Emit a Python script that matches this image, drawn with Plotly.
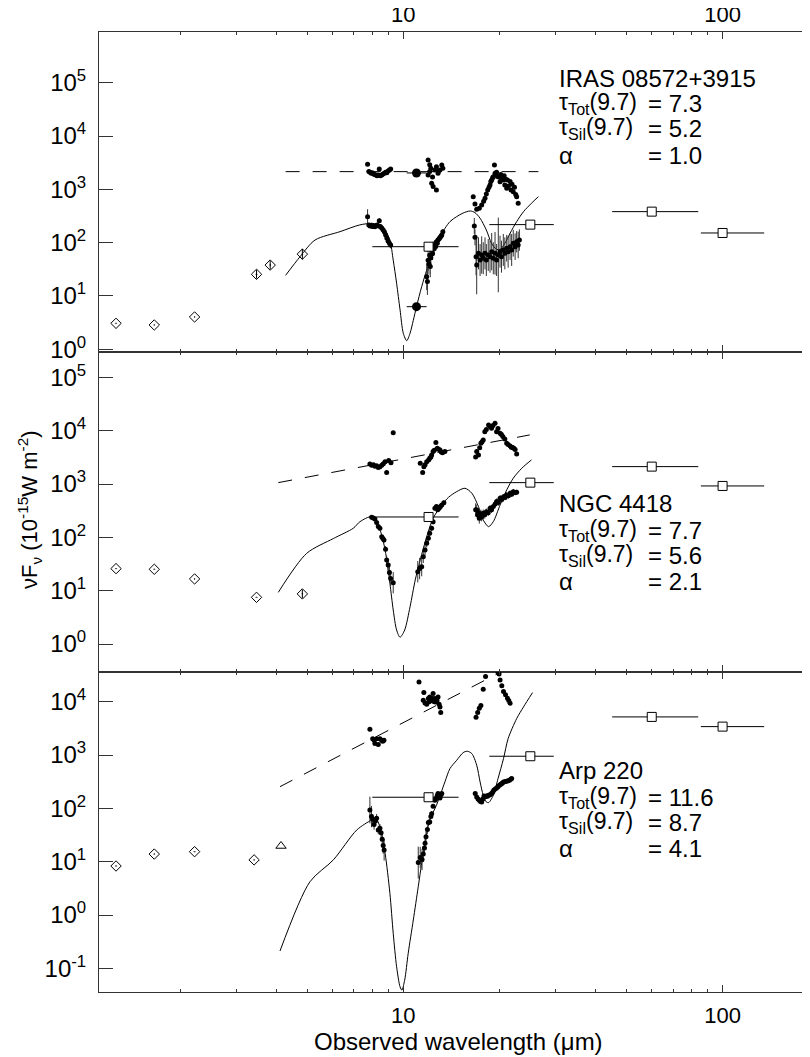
import plotly.graph_objects as go

# ---------------- shared ----------------
iras_wl = [12, 25, 60, 100]
iras_band_lo = [8.0, 18.6, 45.1, 85.5]
iras_band_hi = [14.9, 29.6, 83.9, 135.0]
x_tick_vals = [10, 100]
x_tick_text = ["10", "100"]
x_minor_vals = [2, 3, 4, 5, 6, 7, 8, 9, 20, 30, 40, 50, 60, 70, 80, 90]

# ---------------- IRAS 08572+3915 (top) ----------------
top_phot_wl = [1.26, 1.66, 2.22, 3.47, 3.83, 4.83]
top_phot_f = [3.07, 2.86, 4.04, 25.5, 38, 61]
top_phot_err = [0, 0, 0, 0.08, 0.08, 0.1]
top_iras_f = [84, 218, 382, 152]
top_big_wl = [11.0, 11.0]
top_big_f = [6.3, 2030]
top_big_lo = [10.25, 10.25]
top_big_hi = [11.83, 11.83]
top_model_wl = [4.28, 4.75, 5.29, 6.34, 7.3, 8.0, 8.5, 8.77, 9.08, 9.3,
                9.53, 9.77, 10.0, 10.25, 10.5, 10.75, 11.0, 11.42, 11.84, 12.27,
                13.03, 14.0, 14.7, 15.4, 16.2, 16.77, 17.4, 18.2, 18.9, 19.6,
                20.1, 20.8, 21.6, 22.65, 23.8, 25.2, 26.5]
top_model_f = [24.4, 54.6, 112, 161, 215, 230, 210, 173, 112, 47,
               17.3, 5.5, 2.0, 1.45, 2.0, 3.5, 6.3, 15, 30.7, 54.6,
               130, 248, 308, 360, 393, 366, 287, 173, 97, 75,
               75, 97, 150, 248, 382, 548, 730]
top_cont_wl = [4.28, 26.5]
top_cont_f = [2148, 2148]
top_obs_a_wl = [7.73, 7.80, 7.87, 7.94, 8.00, 8.07, 8.14, 8.21, 8.28, 8.35,
                8.41, 8.48, 8.56, 8.64, 8.72, 8.80, 8.88, 8.96, 9.05, 9.13]
top_obs_a_f = [307, 215, 205, 212, 200, 205, 198, 208, 215, 205,
               259, 200, 188, 175, 160, 140, 122, 108, 98, 90]
top_obs_a_err = [0.14, 0.03, 0.03, 0.03, 0.03, 0.03, 0.03, 0.03, 0.03, 0.03,
                 0.04, 0.03, 0.03, 0.03, 0.03, 0.04, 0.04, 0.05, 0.05, 0.06]
top_obs_b_wl = [11.84, 11.90, 11.96, 12.03, 12.10, 12.15, 12.20, 12.27, 12.35, 12.42,
                12.50, 12.56, 12.63, 12.70, 12.78, 12.85, 12.95, 13.03, 13.12, 13.20, 13.30]
top_obs_b_f = [23, 18.6, 47, 40, 58, 35.6, 52, 73, 62, 84,
               78, 90, 85, 104, 98, 112, 118, 125, 132, 139, 160]
top_obs_b_err = [0.25, 0.25, 0.2, 0.2, 0.18, 0.2, 0.15, 0.12, 0.12, 0.1,
                 0.1, 0.08, 0.08, 0.07, 0.07, 0.06, 0.06, 0.06, 0.05, 0.05, 0.05]
top_obs_c_wl = [16.69, 16.77, 16.90, 16.98, 17.20, 17.40, 17.60, 17.80, 18.03, 18.20,
                18.45, 18.69, 18.92, 19.14, 19.38, 19.60, 19.84, 20.09, 20.30, 20.57,
                20.80, 21.08, 21.30, 21.60, 21.85, 22.10, 22.40, 22.65, 22.90, 23.10]
top_obs_c_f = [206, 126, 54.6, 38.2, 63, 47.3, 58.8, 51, 63, 47.3,
               58.8, 54.6, 67.8, 51, 63, 47.3, 58.8, 67.8, 54.6, 73,
               63, 78.5, 67.8, 84, 73, 97.5, 84, 104, 90.5, 112]
top_obs_c_err = [0.15, 0.15, 0.35, 0.55, 0.3, 0.3, 0.35, 0.3, 0.3, 0.3,
                 0.3, 0.3, 0.35, 0.3, 0.4, 0.3, 0.7, 0.3, 0.3, 0.3,
                 0.3, 0.25, 0.3, 0.25, 0.3, 0.25, 0.25, 0.2, 0.25, 0.2]
top_up_a_wl = top_obs_a_wl
top_up_a_f = [2960, 2150, 2100, 2000, 2050, 1950, 1900, 1850, 1800, 1850,
              2400, 1800, 1850, 1950, 2000, 2100, 2050, 2200, 2300, 2400]
top_up_b_wl = [11.96, 12.10, 12.20, 11.96, 12.10, 12.27, 12.40, 12.70, 12.56, 12.70,
               12.85, 13.03, 13.20, 13.30, 12.35, 12.90]
top_up_b_f = [3560, 2880, 2480, 1860, 2150, 1300, 1130, 975, 2300, 2650,
              2000, 2300, 2870, 2500, 1700, 2200]
top_up_c_wl = [16.56, 16.77, 16.98, 17.3, 17.6, 17.85, 18.03, 18.2, 18.38, 18.55,
               18.69, 18.8, 18.92, 19.05, 19.14, 19.3, 19.38, 19.5, 19.6, 19.75,
               19.9, 20.09, 20.2, 20.3, 20.45, 20.55, 20.7, 20.8, 20.95, 21.08,
               21.2, 21.35, 21.6, 21.75, 21.9, 22.1, 22.3, 22.5, 22.65, 22.9]
top_up_c_f = [730, 532, 423, 442, 509, 600, 680, 820, 975, 1100,
              1210, 1400, 1500, 1650, 1730, 2870, 2000, 1900, 2100, 1750,
              1700, 1390, 1900, 1610, 1750, 1500, 1800, 1210, 1550, 1050,
              1500, 1150, 1400, 975, 1250, 905, 1100, 800, 730, 548]

# ---------------- NGC 4418 (middle) ----------------
mid_phot_wl = [1.26, 1.66, 2.22, 3.47, 4.83]
mid_phot_f = [25.9, 25.2, 16.6, 7.5, 8.7]
mid_phot_err = [0, 0, 0, 0, 0.08]
mid_iras_f = [241, 1062, 2122, 921]
mid_model_wl = [4.06, 4.98, 6.04, 6.97, 7.32, 7.96, 8.45, 8.77, 9.08, 9.3,
                9.53, 9.77, 10.1, 10.5, 10.9, 11.3, 11.84, 12.4, 13.2, 13.86,
                14.7, 15.6, 16.4, 17.2, 17.8, 18.5, 19.14, 20.1, 21.08, 22.1,
                23.5, 25.2]
mid_model_f = [9.3, 50, 95, 148, 197, 243, 138, 58, 13.8, 4.35,
               1.83, 1.34, 1.83, 5.0, 15.9, 37.7, 103, 228, 405, 565,
               720, 834, 672, 377, 212, 159, 197, 405, 775, 1283,
               1977, 2830]
mid_cont_wl = [4.06, 24.9]
mid_cont_f = [1062, 8340]
mid_obs_a_wl = [7.96, 8.05, 8.15, 8.25, 8.35, 8.45, 8.56, 8.63, 8.7, 8.8,
                8.87, 8.97, 9.05, 9.13, 9.3]
mid_obs_a_f = [238, 230, 221, 190, 159, 148, 103, 95, 89, 60,
               37.7, 30.4, 22, 17, 14.1]
mid_obs_a_err = [0.02, 0.02, 0.02, 0.03, 0.03, 0.03, 0.04, 0.05, 0.05, 0.06,
                 0.08, 0.1, 0.12, 0.15, 0.2]
mid_obs_b_wl = [11.1, 11.25, 11.42, 11.55, 11.7, 11.84, 11.98, 12.1, 12.27, 12.4,
                12.56, 12.7, 12.82, 12.95, 13.07, 13.2, 13.4]
mid_obs_b_f = [22.7, 26, 28.2, 43.5, 58, 77.5, 96, 119, 148, 197,
               351, 377, 330, 351, 380, 405, 448]
mid_obs_b_err = [0.2, 0.2, 0.18, 0.12, 0.1, 0.08, 0.07, 0.06, 0.05, 0.05,
                 0.04, 0.04, 0.04, 0.04, 0.04, 0.04, 0.04]
mid_obs_c_wl = [16.85, 16.98, 17.1, 17.2, 17.3, 17.4, 17.5, 17.6, 17.8, 18.0,
                18.2, 18.45, 18.7, 18.9, 19.14, 19.4, 19.6, 19.85, 20.1, 20.35,
                20.6, 20.85, 21.08, 21.35, 21.6, 21.85, 22.1, 22.4, 22.65]
mid_obs_c_f = [330, 327, 263, 290, 228, 250, 275, 240, 283, 265,
               303, 290, 351, 330, 377, 420, 468, 450, 541, 510,
               580, 560, 624, 600, 672, 640, 720, 690, 700]
mid_obs_c_err = [0.12, 0.1, 0.1, 0.08, 0.1, 0.08, 0.08, 0.08, 0.07, 0.07,
                 0.06, 0.06, 0.06, 0.06, 0.06, 0.06, 0.06, 0.06, 0.06, 0.06,
                 0.05, 0.05, 0.05, 0.05, 0.05, 0.05, 0.05, 0.05, 0.05]
mid_up_a_wl = [7.86, 7.96, 8.06, 8.15, 8.25, 8.35, 8.45, 8.56, 8.66, 8.77,
               8.87, 9.0, 9.15, 9.3]
mid_up_a_f = [2385, 2250, 2290, 2150, 2200, 2050, 2100, 2250, 2400, 2630,
              1640, 2750, 2500, 9200]
mid_up_b_wl = [11.3, 11.5, 11.6, 11.7, 11.84, 12.0, 12.1, 12.2, 12.27, 12.4,
               12.5, 12.65, 12.78, 12.9, 13.03, 13.15, 13.27, 13.5]
mid_up_b_f = [2455, 1640, 2100, 2290, 2630, 2830, 3050, 3200, 3515, 4055,
              4300, 5980, 4700, 4500, 4365, 4000, 3880, 4055]
mid_up_c_wl = [16.85, 16.98, 17.2, 17.35, 17.5, 17.65, 17.8, 18.0, 18.2, 18.5,
               18.7, 18.9, 19.1, 19.38, 19.6, 19.8, 20.1, 20.3, 20.5, 20.8,
               21.08, 21.3, 21.6, 21.8, 22.0, 22.2, 22.4, 22.65]
mid_up_c_f = [3200, 4055, 3515, 4800, 5825, 6200, 6720, 9610, 10500, 12850,
              12000, 11150, 12500, 13800, 9610, 11000, 8980, 8500, 7750, 7000,
              5825, 5500, 5190, 4900, 4850, 4700, 4460, 3670]

# ---------------- Arp 220 (bottom) ----------------
bot_phot_wl = [1.26, 1.66, 2.22, 3.41]
bot_phot_f = [8.3, 13.9, 15.4, 10.8]
bot_phot_err = [0, 0, 0, 0]
bot_tri_wl = [4.14]
bot_tri_f = [19.7]
bot_iras_f = [161.6, 949, 5186, 3411]
bot_model_wl = [4.11, 5.1, 6.04, 7.15, 7.96, 8.2, 8.45, 8.77, 9.08, 9.3,
                9.53, 9.77, 9.9, 10.1, 10.36, 10.75, 11.14, 11.55, 12.1, 12.7,
                13.5, 14.0, 14.7, 15.4, 15.85, 16.4, 16.98, 17.4, 17.8, 18.2,
                18.5, 19.14, 19.8, 20.6, 21.3, 22.65, 23.8, 25.4]
bot_model_f = [0.211, 4.2, 10.8, 39.3, 60.6, 65, 45, 14.4, 2.55, 0.454,
               0.107, 0.045, 0.039, 0.06, 0.191, 0.806, 3.4, 14.4, 60.6, 114,
               313, 556, 798, 1109, 1178, 1062, 644, 313, 176, 132,
               128, 176, 361, 856, 2030, 4820, 7990, 14830]
bot_cont_wl = [4.11, 25.0]
bot_cont_f = [255, 70000]
bot_obs_a_wl = [7.86, 7.95, 8.02, 8.1, 8.18, 8.25, 8.35, 8.45, 8.52, 8.59, 8.65, 8.71]
bot_obs_a_f = [93, 70, 62.4, 50, 58, 65, 39.3, 42.3, 35, 26.3, 20, 16.6]
bot_obs_a_err = [0.25, 0.2, 0.1, 0.1, 0.08, 0.08, 0.08, 0.08, 0.1, 0.12, 0.15, 0.2]
bot_obs_b_wl = [11.14, 11.3, 11.45, 11.55, 11.65, 11.7, 11.78, 11.9, 11.98, 12.1,
                12.2, 12.27, 12.4, 12.56, 12.63, 12.7, 12.78, 12.85, 12.95, 13.03,
                13.12, 13.2]
bot_obs_b_f = [9.6, 12, 11, 13.9, 18, 22.1, 29.4, 40, 54, 55.6,
               70, 79.5, 110, 142, 150, 157, 175, 189, 165, 157,
               180, 189]
bot_obs_b_err = [0.3, 0.2, 0.2, 0.15, 0.12, 0.12, 0.1, 0.08, 0.06, 0.06,
                 0.05, 0.05, 0.04, 0.04, 0.04, 0.04, 0.03, 0.03, 0.03, 0.03,
                 0.03, 0.03]
bot_obs_c_wl = [16.8, 16.98, 17.15, 17.3, 17.45, 17.6, 17.75, 17.9, 18.05, 18.2,
                18.35, 18.5, 18.7, 18.9, 19.05, 19.2, 19.4, 19.6, 19.8, 20.0,
                20.15, 20.3, 20.45, 20.6, 20.85, 21.08, 21.3, 21.5, 21.7, 21.85]
bot_obs_c_f = [189, 164, 150, 142, 135, 132, 150, 171, 165, 171,
               168, 176, 180, 189, 200, 219, 230, 241, 255, 271,
               280, 290, 300, 313, 318, 322, 330, 337, 350, 361]
bot_obs_c_err = [0.03] * 30
bot_up_a_wl = [7.86, 8.02, 8.1, 8.15, 8.25, 8.35, 8.45, 8.55, 8.62, 8.7]
bot_up_a_f = [3050, 2030, 1900, 1640, 2030, 1567, 2030, 1900, 1815, 1900]
bot_up_b_wl = [11.2, 11.55, 11.6, 11.7, 11.84, 11.98, 12.05, 12.1, 12.2, 12.27,
               12.35, 12.4, 12.5, 12.56, 12.65, 12.75, 12.85, 12.95, 13.03, 13.1]
bot_up_b_f = [23500, 10670, 14830, 9500, 8970, 11440, 10000, 12300, 10400, 10670,
              11500, 14190, 10000, 11440, 9910, 10500, 12300, 9000, 7990, 6250]
bot_up_c_wl = [16.9, 17.1, 17.3, 17.5, 17.8, 18.1, 19.8, 19.95, 20.1, 20.35,
               20.6, 20.9, 21.2, 21.4, 21.6]
bot_up_c_f = [5120, 6250, 7550, 8500, 17180, 29600, 35200, 33000, 25650, 20000,
              15500, 13500, 11620, 10500, 9380]

# ---------------- text ----------------
names = ["IRAS 08572+3915", "NGC 4418", "Arp 220"]
tau_tot = ["7.3", "7.7", "11.6"]
tau_sil = ["5.2", "5.6", "8.7"]
alpha = ["1.0", "2.1", "4.1"]

FONT = "Liberation Sans, Arial, Helvetica, sans-serif"
AX = "#333333"

# page offset (browser body margin) is 8 px; the figure is laid out so the
# plotting area sits at page x 99..810 and page y 32..992
PAGE_OFF = 8
ML, MT, PW, PH = 99 - PAGE_OFF, 32 - PAGE_OFF, 711, 960
FIG_W = ML + PW
FIG_H = 1057 - PAGE_OFF
MB = FIG_H - MT - PH


def px2paper_x(px):
    return (px - 99) / PW


def px2paper_y(py):
    return (992 - py) / PH


def dplus(f, d):
    return [v * (10 ** e - 1) for v, e in zip(f, d)]


def dminus(f, d):
    return [v * (1 - 10 ** (-e)) for v, e in zip(f, d)]


fig = go.Figure()


def add(tr):
    tr.update(showlegend=False, hoverinfo="skip")
    fig.add_trace(tr)


def dots(xa, ya, wl, f, err=None, size=5):
    kw = {}
    if err is not None:
        kw["error_y"] = dict(type="data", symmetric=False, array=dplus(f, err),
                             arrayminus=dminus(f, err), thickness=1, width=0, color="#333")
    add(go.Scatter(x=wl, y=f, mode="markers", xaxis=xa, yaxis=ya,
                   marker=dict(size=size, color="black", line=dict(width=0)), **kw))


panels = [
    dict(xa="x", ya="y", model=(top_model_wl, top_model_f), cont=(top_cont_wl, top_cont_f),
         obs=[(top_obs_a_wl, top_obs_a_f, top_obs_a_err), (top_obs_b_wl, top_obs_b_f, top_obs_b_err),
              (top_obs_c_wl, top_obs_c_f, top_obs_c_err)],
         up=[(top_up_a_wl, top_up_a_f), (top_up_b_wl, top_up_b_f), (top_up_c_wl, top_up_c_f)],
         phot=(top_phot_wl, top_phot_f, top_phot_err), iras=top_iras_f),
    dict(xa="x2", ya="y2", model=(mid_model_wl, mid_model_f), cont=(mid_cont_wl, mid_cont_f),
         obs=[(mid_obs_a_wl, mid_obs_a_f, mid_obs_a_err), (mid_obs_b_wl, mid_obs_b_f, mid_obs_b_err),
              (mid_obs_c_wl, mid_obs_c_f, mid_obs_c_err)],
         up=[(mid_up_a_wl, mid_up_a_f), (mid_up_b_wl, mid_up_b_f), (mid_up_c_wl, mid_up_c_f)],
         phot=(mid_phot_wl, mid_phot_f, mid_phot_err), iras=mid_iras_f),
    dict(xa="x3", ya="y3", model=(bot_model_wl, bot_model_f), cont=(bot_cont_wl, bot_cont_f),
         obs=[(bot_obs_a_wl, bot_obs_a_f, bot_obs_a_err), (bot_obs_b_wl, bot_obs_b_f, bot_obs_b_err),
              (bot_obs_c_wl, bot_obs_c_f, bot_obs_c_err)],
         up=[(bot_up_a_wl, bot_up_a_f), (bot_up_b_wl, bot_up_b_f), (bot_up_c_wl, bot_up_c_f)],
         phot=(bot_phot_wl, bot_phot_f, bot_phot_err), iras=bot_iras_f),
]

for p in panels:
    xa, ya = p["xa"], p["ya"]
    add(go.Scatter(x=p["cont"][0], y=p["cont"][1], mode="lines", xaxis=xa, yaxis=ya,
                   line=dict(color="black", width=1, dash="14px,13px")))
    add(go.Scatter(x=p["model"][0], y=p["model"][1], mode="lines", xaxis=xa, yaxis=ya,
                   line=dict(color="black", width=1, shape="spline", smoothing=0.8)))
    for wl, f, e in p["obs"]:
        dots(xa, ya, wl, f, e)
    for wl, f in p["up"]:
        dots(xa, ya, wl, f)
    pw, pf, pe = p["phot"]
    add(go.Scatter(x=pw, y=pf, mode="markers", xaxis=xa, yaxis=ya,
                   marker=dict(symbol="diamond-open-dot", size=8, color="black", line=dict(width=1, color="black")),
                   error_y=dict(type="data", symmetric=False, array=dplus(pf, pe), arrayminus=dminus(pf, pe),
                                thickness=1, width=0, color="black")))
    add(go.Scatter(x=iras_wl, y=p["iras"], mode="markers", xaxis=xa, yaxis=ya,
                   marker=dict(symbol="square", size=9, color="white", line=dict(width=1, color="black")),
                   error_x=dict(type="data", symmetric=False,
                                array=[h - w for h, w in zip(iras_band_hi, iras_wl)],
                                arrayminus=[w - l for w, l in zip(iras_wl, iras_band_lo)],
                                thickness=1, width=0, color="black")))

# big filled circles (top panel)
add(go.Scatter(x=top_big_wl, y=top_big_f, mode="markers", xaxis="x", yaxis="y",
               marker=dict(size=9, color="black"),
               error_x=dict(type="data", symmetric=False,
                            array=[h - w for h, w in zip(top_big_hi, top_big_wl)],
                            arrayminus=[w - l for w, l in zip(top_big_wl, top_big_lo)],
                            thickness=1, width=0, color="black")))
# triangle (bottom panel)
add(go.Scatter(x=bot_tri_wl, y=bot_tri_f, mode="markers", xaxis="x3", yaxis="y3",
               marker=dict(symbol="triangle-up-open", size=9, color="black", line=dict(width=1))))

# dummy traces so right-hand tick axes render
for i, xa in zip([4, 5, 6], ["x", "x2", "x3"]):
    add(go.Scatter(x=[None], y=[None], mode="markers", xaxis=xa, yaxis="y%d" % i))

xtickfont = dict(family=FONT, size=22, color="black")
ytickfont = dict(family=FONT, size=24, color="black")
xcommon = dict(type="log", range=[0.047, 2.2738], showline=True, linecolor=AX, linewidth=1,
               mirror="ticks", ticks="inside", ticklen=7, tickwidth=1, tickcolor=AX,
               tickvals=x_tick_vals, ticktext=x_tick_text, showgrid=False, zeroline=False,
               tickfont=xtickfont, domain=[0, 1],
               minor=dict(ticks="inside", ticklen=3, tickwidth=1, tickcolor=AX,
                          tickvals=x_minor_vals, showgrid=False))


def yticks(lo, hi):
    vals = [10.0 ** k for k in range(lo, hi + 1)]
    txt = ["10<sup>%d</sup>" % k for k in range(lo, hi + 1)]
    return vals, txt


yr = {"y": [-0.0506, 5.951], "y2": [-0.525, 5.476], "y3": [-1.444, 4.557]}
yt = {"y": yticks(0, 5), "y2": yticks(0, 5), "y3": yticks(-1, 4)}
ydom = {"y": [2 / 3, 1], "y2": [1 / 3, 2 / 3], "y3": [0, 1 / 3]}


def ycommon(key, anchor):
    return dict(type="log", range=yr[key], domain=ydom[key], anchor=anchor, showline=True,
                linecolor=AX, linewidth=1, mirror=False, ticks="inside", ticklen=14,
                tickwidth=1, tickcolor=AX, tickvals=yt[key][0], ticktext=yt[key][1],
                showgrid=False, zeroline=False, tickfont=ytickfont, ticklabelstandoff=7)


def yright(key, anchor):
    return dict(type="log", range=yr[key], overlaying=key, anchor=anchor, side="right",
                showline=False, ticks="inside", ticklen=7, tickwidth=1, tickcolor=AX,
                tickvals=yt[key][0], showticklabels=False, showgrid=False, zeroline=False)


fig.update_layout(
    width=FIG_W, height=FIG_H,
    margin=dict(l=ML, r=0, t=MT, b=MB, autoexpand=False),
    paper_bgcolor="white", plot_bgcolor="white",
    font=dict(family=FONT, size=22, color="black"),
    xaxis=dict(xcommon, anchor="y", side="top", showticklabels=True),
    xaxis2=dict(xcommon, anchor="y2", showticklabels=False),
    xaxis3=dict(xcommon, anchor="y3", side="bottom", showticklabels=True, ticklabelstandoff=4),
    yaxis=ycommon("y", "x"),
    yaxis2=ycommon("y2", "x2"),
    yaxis3=ycommon("y3", "x3"),
    yaxis4=yright("y", "x"),
    yaxis5=yright("y2", "x2"),
    yaxis6=yright("y3", "x3"),
)

# text blocks
x_left = px2paper_x(556.7)
x_eq = px2paper_x(646)
block_y = [[78, 103.3, 128.3, 155], [503.3, 530, 555.3, 581.3], [770.3, 797, 822, 848.3]]
ann = []
nfont = dict(family=FONT, size=24, color="black")
tfont = dict(family=FONT, size=23, color="black")
for i in range(3):
    ys = [px2paper_y(v) for v in block_y[i]]
    ann.append(dict(x=x_left, y=ys[0], text=names[i], font=nfont))
    ann.append(dict(x=x_left, y=ys[1], text="τ<sub>Tot</sub>(9.7)", font=tfont))
    ann.append(dict(x=x_eq, y=ys[1], text="= " + tau_tot[i], font=nfont))
    ann.append(dict(x=x_left, y=ys[2], text="τ<sub>Sil</sub>(9.7)", font=tfont))
    ann.append(dict(x=x_eq, y=ys[2], text="= " + tau_sil[i], font=nfont))
    ann.append(dict(x=x_left, y=ys[3], text="α", font=nfont))
    ann.append(dict(x=x_eq, y=ys[3], text="= " + alpha[i], font=nfont))
for a in ann:
    a.update(xref="paper", yref="paper", xanchor="left", yanchor="middle", showarrow=False)
ann.append(dict(x=px2paper_x(29), y=px2paper_y(510), xref="paper", yref="paper",
                text="νF<sub>ν</sub> (10<sup>-15</sup>W m<sup>-2</sup>)", textangle=-90,
                showarrow=False, xanchor="center", yanchor="middle",
                font=dict(family=FONT, size=22, color="black")))
ann.append(dict(x=px2paper_x(458), y=px2paper_y(1041), xref="paper", yref="paper",
                text="Observed wavelength (μm)", showarrow=False, xanchor="center",
                yanchor="middle", font=nfont))
fig.update_layout(annotations=ann)

fig.write_html("out.html")
